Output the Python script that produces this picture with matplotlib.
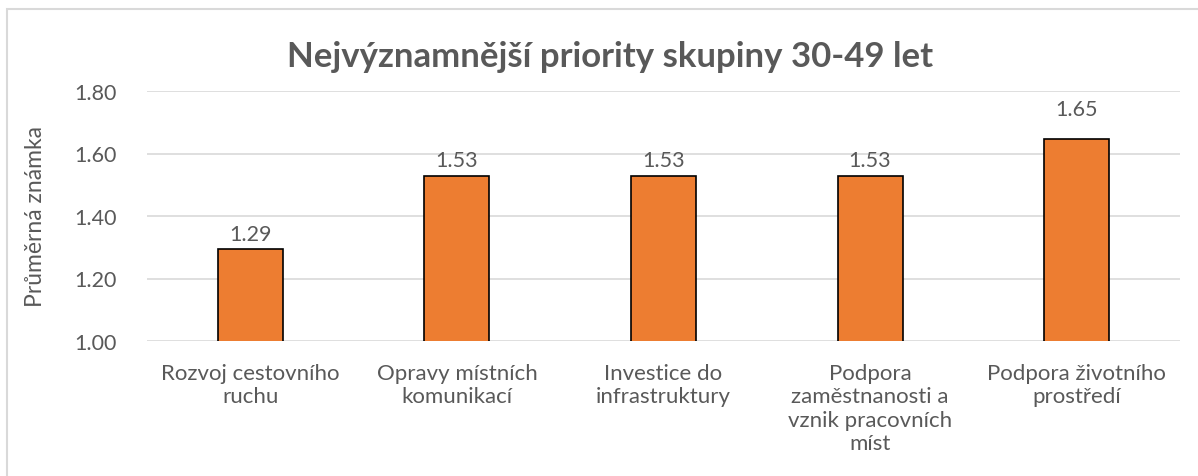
import matplotlib.pyplot as plt
from matplotlib.patches import Rectangle

categories = [
    "Rozvoj cestovního\nruchu",
    "Opravy místních\nkomunikací",
    "Investice do\ninfrastruktury",
    "Podpora\nzaměstnanosti a\nvznik pracovních\nmíst",
    "Podpora životního\nprostředí",
]
values = [1.294, 1.529, 1.529, 1.529, 1.647]
labels = ["1.29", "1.53", "1.53", "1.53", "1.65"]
yticks = [1.00, 1.20, 1.40, 1.60, 1.80]

plt.rcParams["font.family"] = ["Lato", "DejaVu Sans"]
grey = "#595959"

W, H = 1198, 477
fig = plt.figure(figsize=(W / 100, H / 100), dpi=100)
ax = fig.add_axes([147 / W, 1 - 342 / H, (1180 - 147) / W, (342 - 92) / H])

x = range(len(categories))
bars = ax.bar(x, values, width=0.315, bottom=0, color="#ED7D31",
              edgecolor="black", linewidth=1.2, zorder=3)
ax.set_ylim(1.0, 1.8)
ax.set_xlim(-0.5, len(categories) - 0.5)
ax.set_yticks(yticks)
ax.set_yticklabels([f"{t:.2f}" for t in yticks])
ax.set_xticks(list(x))
ax.set_xticklabels(categories, fontsize=16, color=grey, linespacing=1.2,
                   va="top")
ax.tick_params(axis="y", labelsize=15.5, labelcolor=grey, length=0, pad=22)
ax.tick_params(axis="x", length=0, pad=16)
ax.grid(axis="y", color="#D9D9D9", linewidth=1.2, zorder=0)
for s in ax.spines.values():
    s.set_visible(False)

offsets = [4, 4, 4, 4, 14]
for i, (v, lab) in enumerate(zip(values, labels)):
    ax.annotate(lab, (i, v), xytext=(0, offsets[i]), textcoords="offset points",
                ha="center", va="bottom", fontsize=15.5, color=grey)

ax.set_ylabel("Průměrná známka", fontsize=16.5, color=grey, labelpad=20)
fig.text(610 / W, 1 - 57 / H, "Nejvýznamnější priority skupiny 30-49 let",
         ha="center", va="center", fontsize=25, fontweight="bold", color=grey)

# chart frame (only top and left edges visible in the crop)
fig.patches.append(Rectangle((7 / W, -0.1), 1.2, 1 - 10 / H + 0.1,
                             transform=fig.transFigure, fill=False,
                             edgecolor="#D9D9D9", linewidth=1.5))

fig.savefig("out.png", dpi=100)
